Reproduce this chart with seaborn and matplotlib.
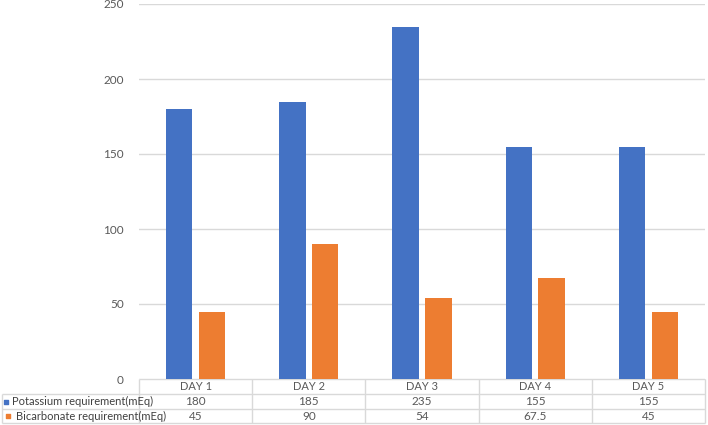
import pandas as pd
import matplotlib.pyplot as plt
import seaborn as sns

# --- datos ---
days = ['DAY 1', 'DAY 2', 'DAY 3', 'DAY 4', 'DAY 5']
potassium = [180, 185, 235, 155, 155]
bicarbonate = [45, 90, 54, 67.5, 45]
series_names = ['Potassium requirement(mEq)', 'Bicarbonate requirement(mEq)']
value_labels = [['180', '185', '235', '155', '155'],
                ['45', '90', '54', '67.5', '45']]
colors = ['#4472C4', '#ED7D31']
grid_c = '#D9D9D9'
text_c = '#595959'

df = pd.DataFrame({
    'day': days * 2,
    'value': potassium + bicarbonate,
    'serie': [series_names[0]] * 5 + [series_names[1]] * 5,
})

W, H = 708, 425
fig = plt.figure(figsize=(W / 100, H / 100), dpi=100)
plt.rcParams['font.family'] = ['Lato', 'DejaVu Sans']

# --- grafico principal ---
x0, x1 = 139, 705
y_top, y_zero = 4, 379
ax = fig.add_axes([x0 / W, (H - y_zero) / H, (x1 - x0) / W, (y_zero - y_top) / H])
sns.barplot(data=df, x='day', y='value', hue='serie', palette=colors,
            width=0.58, gap=0.2, ax=ax, legend=False, saturation=1)
ax.set_ylim(0, 250)
ax.set_xlim(-0.5, 4.5)
ax.set_yticks([0, 50, 100, 150, 200, 250])
ax.set_xticks([])
ax.set_xlabel('')
ax.set_ylabel('')
for s in ax.spines.values():
    s.set_visible(False)
ax.yaxis.grid(True, color=grid_c, linewidth=1)
ax.set_axisbelow(True)
ax.tick_params(axis='y', length=0, pad=11, labelsize=8.5, labelcolor=text_c)

# --- tabla de datos ---
cat_px = (x1 - x0) / 5
tx = fig.add_axes([0, 0, 1, (H - y_zero) / H])
left = -0.5 - x0 / cat_px
right = 4.5 + (W - x1) / cat_px
tx.set_xlim(left, right)
tx.set_ylim(H, y_zero)  # coordenadas en pixeles (y hacia abajo)
tx.axis('off')

row_y = [379, 394, 409, 423]
lw = 1
tx.hlines(row_y[0], -0.5, 4.5, color=grid_c, lw=lw)
tx.hlines(row_y[1:], left + 2 / cat_px, 4.5, color=grid_c, lw=lw)
tx.vlines([-0.5 + i for i in range(6)], row_y[0], row_y[3], color=grid_c, lw=lw)
tx.vlines(left + 2 / cat_px, row_y[1], row_y[3], color=grid_c, lw=lw)

for i, d in enumerate(days):
    tx.text(i, (row_y[0] + row_y[1]) / 2, d, ha='center', va='center', fontsize=8, color=text_c)
    for r in range(2):
        tx.text(i, (row_y[r + 1] + row_y[r + 2]) / 2, value_labels[r][i],
                ha='center', va='center', fontsize=8.5, color=text_c)

mark_x = [6, 8]
text_x = [12, 16]
for r in range(2):
    yc = (row_y[r + 1] + row_y[r + 2]) / 2
    tx.scatter(left + mark_x[r] / cat_px, yc, marker='s', s=12, color=colors[r])
    tx.text(left + text_x[r] / cat_px, yc, series_names[r], ha='left', va='center',
            fontsize=8, color='#404040')

fig.savefig('out.png', dpi=100)
